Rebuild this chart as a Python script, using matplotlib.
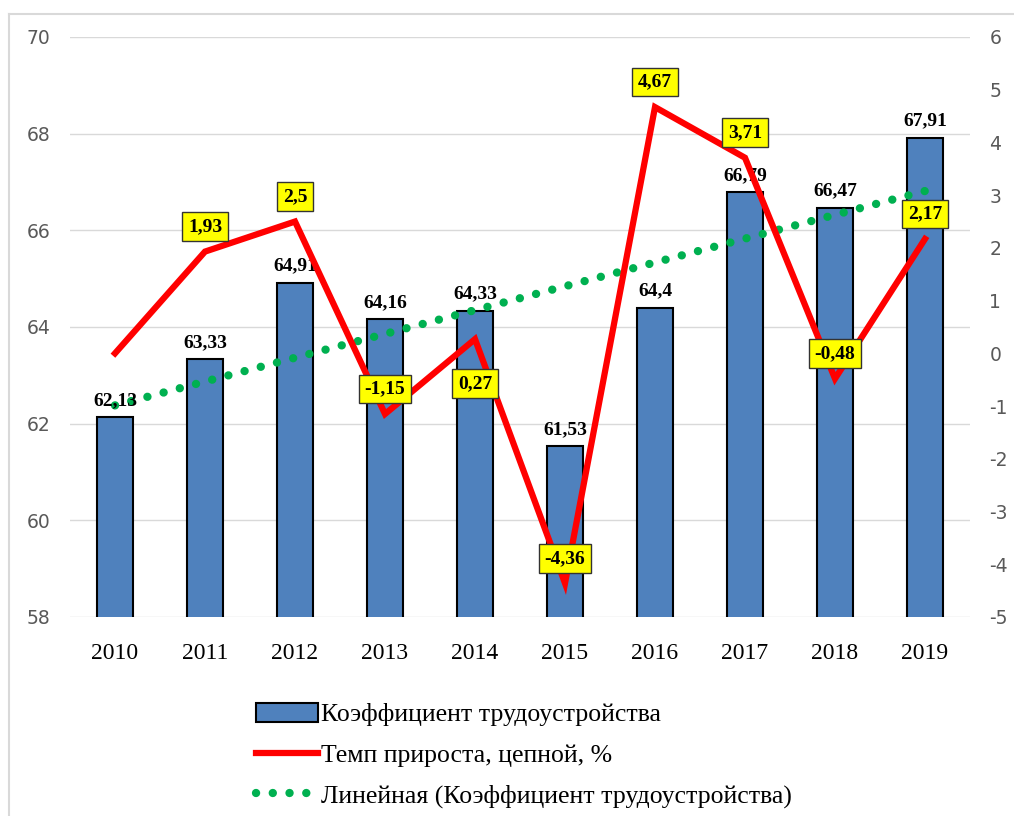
import numpy as np
import matplotlib.pyplot as plt
from matplotlib.patches import Patch
from matplotlib.lines import Line2D

# data
years = ['2010', '2011', '2012', '2013', '2014', '2015', '2016', '2017', '2018', '2019']
employment_coef = [62.13, 63.33, 64.91, 64.16, 64.33, 61.53, 64.4, 66.79, 66.47, 67.91]
growth_rate = [0.0, 1.93, 2.5, -1.15, 0.27, -4.36, 4.67, 3.71, -0.48, 2.17]

bar_label = 'Коэффициент трудоустройства'
line_label = 'Темп прироста, цепной, %'
trend_label = 'Линейная (Коэффициент трудоустройства)'

def comma(v):
    return f"{v:g}".replace('.', ',')

plt.rcParams['axes.unicode_minus'] = False

serif = 'Liberation Serif'
tick_grey = '#595959'
dots = (0, (0.01, 2.0))

fig = plt.figure(figsize=(10.14, 8.16), dpi=100)
ax = fig.add_axes([70 / 1014, 1 - 617 / 816, 900 / 1014, 580 / 816])
ax2 = ax.twinx()

x = np.arange(len(years))

# bars on the left axis
ax.bar(x, employment_coef, width=0.4, color='#4F81BD',
       edgecolor='black', linewidth=1.5, zorder=2)
for xi, v in zip(x, employment_coef):
    ax.annotate(comma(v), (xi, v), xytext=(0, 6), textcoords='offset points',
                ha='center', va='bottom', fontsize=14, fontweight='bold',
                family=serif, color='black', zorder=5)

# linear trend like Excel's trendline
k, b = np.polyfit(x, employment_coef, 1)
ax.plot(x, k * x + b, color='#00B050', lw=6, linestyle=dots,
        dash_capstyle='round', zorder=3)

ax.set_xlim(-0.5, len(years) - 0.5)
ax.set_ylim(58, 70)
ax.set_yticks(np.arange(58, 71, 2))
ax.set_xticks(x)
ax.set_xticklabels(years, family=serif, fontsize=17, color='black')
ax.grid(axis='y', color='#D9D9D9', lw=1, zorder=0)
ax.set_axisbelow(True)
ax.tick_params(axis='x', length=0, pad=19)
ax.tick_params(axis='y', length=0, pad=14, labelsize=13.5, labelcolor=tick_grey)

# growth rate on the right axis
ax2.plot(x, growth_rate, color='#FF0000', lw=4.5, solid_joinstyle='miter', zorder=4)
ax2.set_ylim(-5, 6)
ax2.set_yticks(np.arange(-5, 7, 1))
ax2.tick_params(axis='y', length=0, pad=14, labelsize=13.5, labelcolor=tick_grey)

label_offsets = [None, 18, 18, 18, -32, 18, 18, 18, 18, 18]
for xi, v, off in zip(x, growth_rate, label_offsets):
    if off is None:
        continue
    ax2.annotate(comma(v), (xi, v), xytext=(0, off), textcoords='offset points',
                 ha='center', va='center', fontsize=14, fontweight='bold',
                 family=serif, color='black', zorder=6,
                 bbox=dict(boxstyle='square,pad=0.3', fc='#FFFF00', ec='#333333', lw=1))

for a in (ax, ax2):
    for s in a.spines.values():
        s.set_visible(False)

# chart frame (top and left edges visible)
fig.add_artist(Line2D([9 / 1014, 1], [1 - 14 / 816, 1 - 14 / 816], color='#D9D9D9', lw=1.5))
fig.add_artist(Line2D([9 / 1014, 9 / 1014], [0, 1 - 14 / 816], color='#D9D9D9', lw=1.5))

handles = [
    Patch(facecolor='#4F81BD', edgecolor='black', linewidth=1.5),
    Line2D([0], [0], color='#FF0000', lw=4.5),
    Line2D([0], [0], color='#00B050', lw=6, linestyle=dots, dash_capstyle='round'),
]
fig.legend(handles, [bar_label, line_label, trend_label],
           loc='upper left', bbox_to_anchor=(243 / 1014, 1 - 690 / 816),
           frameon=False, borderpad=0, handlelength=2.4, handleheight=0.75,
           handletextpad=0.15, labelspacing=0.67,
           prop={'family': serif, 'size': 18.5})

fig.savefig('out.png', dpi=100)
